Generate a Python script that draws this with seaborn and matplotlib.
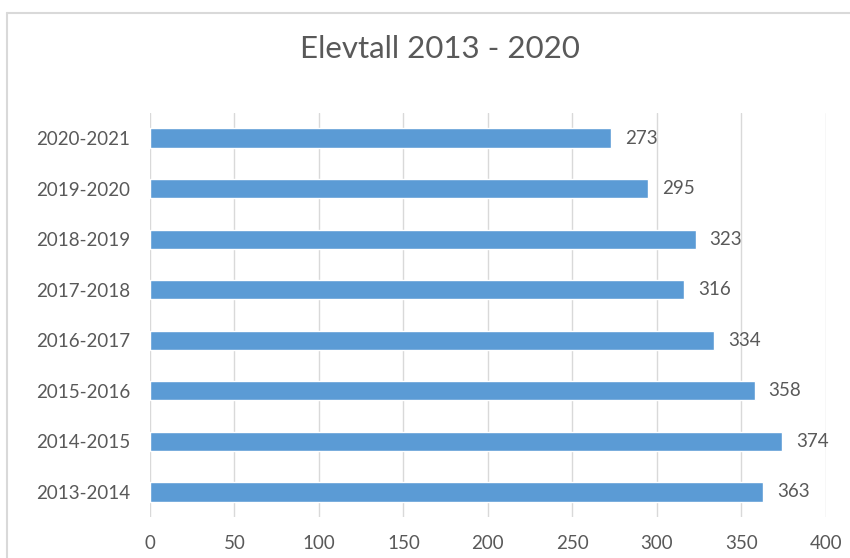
import pandas as pd
import seaborn as sns
import matplotlib.pyplot as plt
from matplotlib.lines import Line2D

# School years, bottom to top in the chart
years = ['2013-2014', '2014-2015', '2015-2016', '2016-2017',
         '2017-2018', '2018-2019', '2019-2020', '2020-2021']
students = [363, 374, 358, 334, 316, 323, 295, 273]

df = pd.DataFrame({'year': years, 'students': students})

sns.set_style('white')
plt.rcParams['font.family'] = ['Lato', 'DejaVu Sans']

fig = plt.figure(figsize=(8.5, 5.58), dpi=100)
ax = fig.add_axes([0.1765, 0.073, 0.795, 0.725])

# seaborn puts the first category at the top, so reverse the order
sns.barplot(data=df, x='students', y='year', order=years[::-1],
            color='#5b9bd5', saturation=1, width=0.38, ax=ax)

ax.bar_label(ax.containers[0], padding=10, color='#595959', fontsize=13.5)

ax.set_xlim(0, 400)
ax.set_xticks(range(0, 401, 50))
ax.grid(axis='x', color='#d9d9d9', linewidth=1)
ax.set_axisbelow(True)
for s in ax.spines.values():
    s.set_visible(False)
ax.tick_params(axis='both', length=0, colors='#595959', labelsize=13.5)
ax.tick_params(axis='x', pad=13)
ax.tick_params(axis='y', pad=14)
ax.set_xlabel('')
ax.set_ylabel('')

fig.text(0.517, 0.912, 'Elevtall 2013 - 2020', ha='center', va='center',
         fontsize=22.5, color='#595959')

# light grey frame of the chart box (top and left edges visible)
fig.add_artist(Line2D([7 / 850, 1], [1 - 13 / 558, 1 - 13 / 558],
                      color='#d9d9d9', linewidth=1.5, transform=fig.transFigure))
fig.add_artist(Line2D([7 / 850, 7 / 850], [0, 1 - 13 / 558],
                      color='#d9d9d9', linewidth=1.5, transform=fig.transFigure))

fig.savefig('out.png', dpi=100)
